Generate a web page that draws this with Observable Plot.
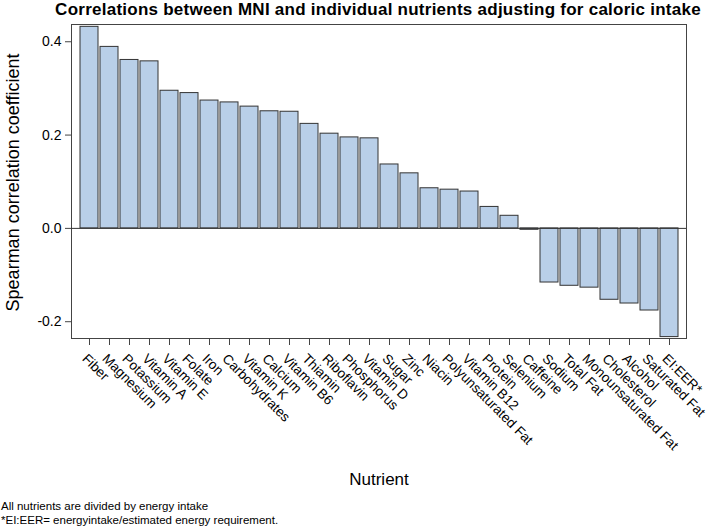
<!DOCTYPE html>
<html>
<head>
<meta charset="utf-8">
<script src="https://cdn.jsdelivr.net/npm/d3@7"></script>
<script src="https://cdn.jsdelivr.net/npm/@observablehq/plot@0.6"></script>
<style>
  html, body { margin: 0; padding: 0; background: #fff; }
  body { width: 708px; height: 527px; font-family: "Liberation Sans", Arial, sans-serif; color: #000; overflow: hidden; }
  #title { height: 22px; line-height: 19px; font-size: 17px; letter-spacing: 0.25px; font-weight: bold; text-align: center; margin-left: 48px; width: 660px; white-space: nowrap; }
  #caption { margin-top: 7px; font-size: 11.5px; line-height: 14px; padding-left: 1px; }
  svg { display: block; }
</style>
</head>
<body>
<div id="title">Correlations between MNI and individual nutrients adjusting for caloric intake</div>
<div id="chart"></div>
<div id="caption">All nutrients are divided by energy intake<br>*EI:EER= energyintake/estimated energy requirement.</div>
<script>
const nutrients = ["Fiber","Magnesium","Potassium","Vitamin A","Vitamin E","Folate","Iron","Carbohydrates","Vitamin K","Calcium","Vitamin B6","Thiamin","Riboflavin","Phosphorus","Vitamin D","Sugar","Zinc","Niacin","Polyunsaturated Fat","Vitamin B12","Protein","Selenium","Caffeine","Sodium","Total Fat","Monounsaturated Fat","Cholesterol","Alcohol","Saturated Fat","EI:EER*"];
const correlations = [0.432,0.389,0.361,0.358,0.295,0.290,0.274,0.270,0.261,0.251,0.250,0.224,0.203,0.195,0.193,0.137,0.118,0.086,0.083,0.079,0.046,0.027,-0.003,-0.116,-0.123,-0.127,-0.153,-0.161,-0.176,-0.233];
const yTicks = [-0.2, 0.0, 0.2, 0.4];

const data = nutrients.map((n, i) => ({nutrient: n, value: correlations[i]}));

const chart = Plot.plot({
  width: 708,
  height: 470,
  marginTop: 2,
  marginLeft: 71,
  marginRight: 22,
  marginBottom: 154,
  style: {fontFamily: "'Liberation Sans', Arial, sans-serif", color: "#000", background: "#fff"},
  x: {domain: nutrients, paddingInner: 0.12, paddingOuter: 0.43},
  y: {domain: [-0.236, 0.437]},
  marks: [
    Plot.frame({stroke: "#444"}),
    Plot.barY(data, {x: "nutrient", y: "value", fill: "#b9cfe8", stroke: "#333", strokeWidth: 1}),
    Plot.ruleY([0], {stroke: "#333"}),
    Plot.axisY(yTicks, {tickSize: 6, tickPadding: 4, fontSize: 14, tickFormat: d => d.toFixed(1), label: null, stroke: "#444"}),
    Plot.axisX({tickSize: 7, tickFormat: () => "", label: null, stroke: "#444"}),
    Plot.text(nutrients, {x: d => d, frameAnchor: "bottom", rotate: 45, textAnchor: "start", dx: -8, dy: 21, fontSize: 13.6, fill: "#000"}),
    Plot.text(["Spearman correlation coefficient"], {frameAnchor: "left", rotate: -90, textAnchor: "middle", dx: -58, dy: 1, fontSize: 18, fill: "#000", style: {letterSpacing: "0.6px"}}),
    Plot.text(["Nutrient"], {frameAnchor: "bottom", dy: 146, fontSize: 17, fill: "#000"})
  ]
});
document.getElementById("chart").appendChild(chart);
</script>
</body>
</html>
